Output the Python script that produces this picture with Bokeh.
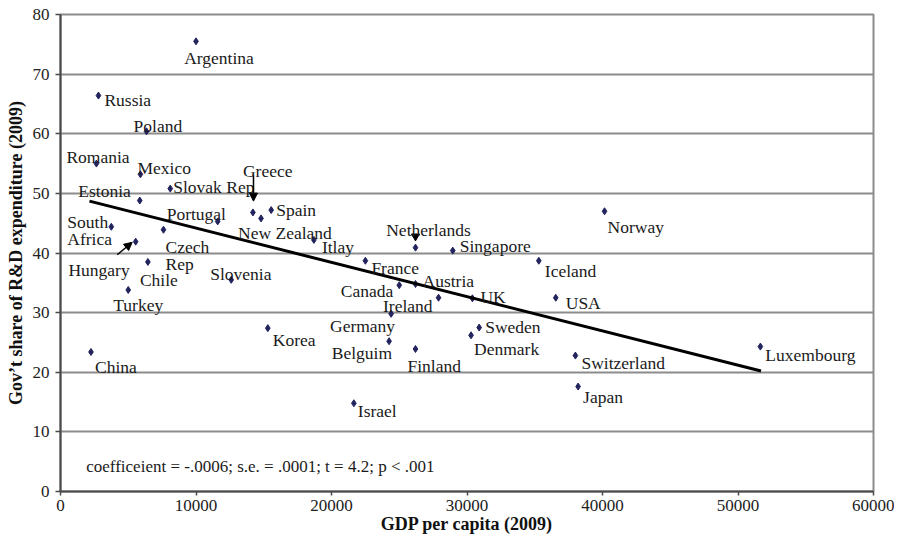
from bokeh.plotting import figure
from bokeh.models import Range1d, FixedTicker, ColumnDataSource, Arrow, NormalHead, Label
from bokeh.core.properties import value
from bokeh.embed import file_html
from bokeh.resources import INLINE

# ---------------- data ----------------
countries = ["Argentina", "Russia", "Poland", "Romania", "Mexico", "Estonia",
             "Slovak Rep", "South Africa", "Czech Rep", "Hungary", "Portugal",
             "Greece", "New Zealand", "Spain", "Chile", "Turkey", "Slovenia",
             "Korea", "China", "Itlay", "Netherlands", "Singapore", "France",
             "Iceland", "Canada", "Austria", "Ireland", "UK", "USA", "Germany",
             "Sweden", "Denmark", "Belguim", "Finland", "Israel", "Switzerland",
             "Japan", "Norway", "Luxembourg"]
gdp_per_capita = [10000, 2800, 6350, 2650, 5900, 5850,
                  8100, 3750, 7600, 5550, 11600,
                  14200, 14800, 15550, 6450, 5000, 12600,
                  15300, 2250, 18700, 26200, 28950, 22500,
                  35300, 25000, 26200, 27900, 30400, 36550, 24400,
                  30900, 30300, 24250, 26200, 21650, 38000,
                  38200, 40150, 51650]
gov_share = [75.5, 66.4, 60.4, 55.0, 53.2, 48.8,
             50.8, 44.4, 43.9, 41.9, 45.3,
             46.8, 45.8, 47.2, 38.5, 33.8, 35.5,
             27.4, 23.4, 42.2, 40.9, 40.4, 38.7,
             38.7, 34.6, 34.8, 32.5, 32.4, 32.5, 29.8,
             27.5, 26.2, 25.2, 23.9, 14.8, 22.8,
             17.6, 47.0, 24.3]

# fitted regression line (end points)
trend_gdp = [2140, 51700]
trend_share = [48.7, 20.2]

x_ticks = [0, 10000, 20000, 30000, 40000, 50000, 60000]
x_tick_labels = ["0", "10000", "20000", "30000", "40000", "50000", "60000"]
y_ticks = [0, 10, 20, 30, 40, 50, 60, 70, 80]
y_tick_labels = ["0", "10", "20", "30", "40", "50", "60", "70", "80"]

x_title = "GDP per capita (2009)"
y_title = "Gov\u2019t share of R&D expenditure (2009)"
note_text = "coefficeient = -.0006; s.e. = .0001; t = 4.2; p < .001"

# label layout: align, dx (px), dy (px, baseline below the dot)
label_layout = {
    "Argentina": ("center", 23, 17), "Russia": ("left", 6, 4),
    "Poland": ("left", -13, -5), "Romania": ("left", -30, -7),
    "Mexico": ("left", -3, -6), "Estonia": ("right", -9, -10),
    "Slovak Rep": ("left", 3, -2), "South Africa": ("left", -44, -5),
    "Czech Rep": ("left", 2, 17), "Hungary": ("right", -6, 28),
    "Portugal": ("left", -51, -7), "Greece": ("left", -10, -41),
    "New Zealand": ("left", -23, 15), "Spain": ("left", 5, 0),
    "Chile": ("left", -8, 18), "Turkey": ("left", -15, 15),
    "Slovenia": ("left", -21, -6), "Korea": ("left", 5, 12),
    "China": ("left", 4, 15), "Itlay": ("left", 8, 7),
    "Netherlands": ("center", 13, -18), "Singapore": ("left", 7, -5),
    "France": ("left", 6, 7), "Iceland": ("left", 6, 10),
    "Canada": ("right", -6, 6), "Austria": ("left", 7, -3),
    "Ireland": ("right", -6, 8), "UK": ("left", 8, -1),
    "USA": ("left", 10, 5), "Germany": ("right", 4, 12),
    "Sweden": ("left", 6, -1), "Denmark": ("left", 3, 14),
    "Belguim": ("right", 3, 12), "Finland": ("left", -8, 17),
    "Israel": ("left", 4, 8), "Switzerland": ("left", 6, 7),
    "Japan": ("left", 5, 10), "Norway": ("left", 3, 16),
    "Luxembourg": ("left", 5, 8),
}
label_lines = {"South Africa": ["South", "Africa"], "Czech Rep": ["Czech", "Rep"]}
LINE_STEP = 17

# annotation arrows (data units): Greece, Hungary
arrows = [(14243, 53.0, 14243, 48.7), (4185, 39.7, 5292, 41.8)]
netherlands_marker = (26199, 42.8)

FONT = "Liberation Serif"

# ---------------- figure ----------------
p = figure(width=894, height=538, output_backend="svg", toolbar_location=None,
           x_range=Range1d(0, 60000), y_range=Range1d(0, 80),
           min_border_left=60, min_border_right=21, min_border_top=14,
           min_border_bottom=47)
p.background_fill_color = "white"
p.border_fill_color = "white"
p.outline_line_color = "#8c8c8c"
p.outline_line_width = 2

p.xgrid.grid_line_color = None
p.ygrid.grid_line_color = "#8c8c8c"
p.ygrid.grid_line_width = 2

for ax in (p.xaxis, p.yaxis):
    ax.axis_line_color = "#4a4a4a"
    ax.axis_line_width = 2
    ax.major_tick_line_color = "#4a4a4a"
    ax.major_tick_line_width = 1.5
    ax.major_tick_in = 0
    ax.minor_tick_in = 0
    ax.minor_tick_out = 0
    ax.major_label_text_font = FONT
    ax.major_label_text_font_size = "17px"
    ax.major_label_text_color = "#222222"
    ax.axis_label_text_font = FONT
    ax.axis_label_text_font_size = "18px"
    ax.axis_label_text_font_style = "bold"
    ax.axis_label_text_color = "#111111"

p.xaxis.ticker = FixedTicker(ticks=x_ticks)
p.xaxis.major_label_overrides = dict(zip(x_ticks, x_tick_labels))
p.xaxis.major_tick_out = 4
p.xaxis.major_label_standoff = 4
p.xaxis.axis_label = x_title
p.xaxis.axis_label_standoff = 0

p.yaxis.ticker = FixedTicker(ticks=y_ticks)
p.yaxis.major_label_overrides = dict(zip(y_ticks, y_tick_labels))
p.yaxis.major_tick_out = 5
p.yaxis.major_label_standoff = 6
p.yaxis.axis_label = y_title
p.yaxis.axis_label_standoff = 4

# points
src = ColumnDataSource(dict(x=gdp_per_capita, y=gov_share, name=countries))
p.scatter("x", "y", source=src, marker="diamond", size=7,
          fill_color="#23235e", line_color="#23235e")

# regression line
p.line(trend_gdp, trend_share, line_color="black", line_width=3)

# arrows
for xs, ys, xe, ye in arrows:
    p.add_layout(Arrow(end=NormalHead(size=8, fill_color="black", line_color="black"),
                       x_start=xs, y_start=ys, x_end=xe, y_end=ye,
                       line_color="black", line_width=1.5))
p.scatter([netherlands_marker[0]], [netherlands_marker[1]], marker="inverted_triangle",
          size=8, fill_color="black", line_color="black")

# labels
groups = {}
for name, gx, gy in zip(countries, gdp_per_capita, gov_share):
    align, dx, dy = label_layout[name]
    lines = label_lines.get(name, [name])
    g = groups.setdefault(align, dict(x=[], y=[], t=[], dx=[], dy=[]))
    for i, ln in enumerate(lines):
        g["x"].append(gx)
        g["y"].append(gy)
        g["t"].append(ln)
        g["dx"].append(dx)
        g["dy"].append(dy + i * LINE_STEP)

for align, g in groups.items():
    s = ColumnDataSource(g)
    p.text("x", "y", text="t", x_offset="dx", y_offset="dy", source=s,
           text_align=align, text_baseline="alphabetic",
           text_font=value(FONT), text_font_size="17.5px", text_color="#1a1a1a")

p.add_layout(Label(x=1900, y=4.2, text=note_text, text_font=FONT,
                   text_font_size="17px", text_baseline="alphabetic",
                   text_color="#1a1a1a"))

open("out.html", "w").write(file_html(p, INLINE))
